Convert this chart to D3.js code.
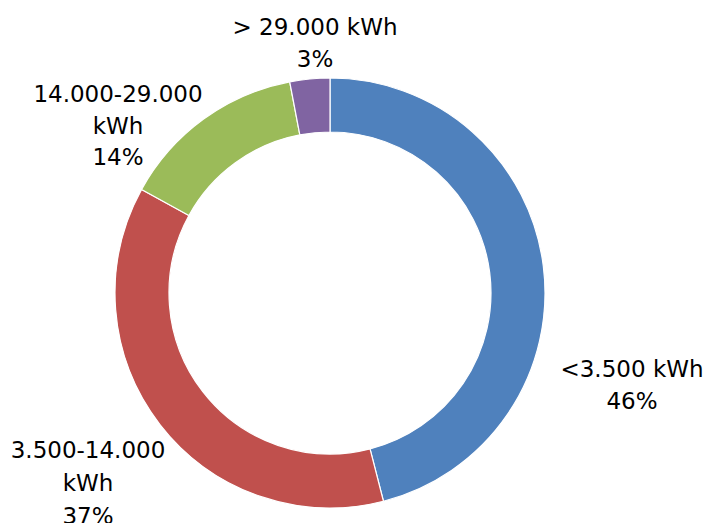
<!DOCTYPE html>
<html>
<head>
<meta charset="utf-8">
<script src="https://cdn.jsdelivr.net/npm/d3@7"></script>
<style>
  html, body { margin: 0; padding: 0; background: #fff; }
  svg { display: block; }
  text { font-family: "DejaVu Sans", Verdana, sans-serif; font-size: 23px; fill: #000; }
</style>
</head>
<body>
<svg id="chart" width="708" height="523"></svg>
<script>
// Data
const categories = ["<3.500 kWh", "3.500-14.000 kWh", "14.000-29.000 kWh", "> 29.000 kWh"];
const labelLines = [["<3.500 kWh"], ["3.500-14.000", "kWh"], ["14.000-29.000", "kWh"], ["> 29.000 kWh"]];
const values = [46, 37, 14, 3];
const colors = ["#4F81BD", "#C0504D", "#9BBB59", "#8064A2"];

// Layout
const W = 708, H = 523;
const cx = 330, cy = 293;
const outerR = 215, innerR = 161;
// label offsets from the chart centre (x centre, first line baseline)
const labelOffsets = [[302, 84], [-242, 165], [-212, -191], [-15, -258]];
const lineHeights = [31.5, 33, 31.5, 31.5];

const svg = d3.select("#chart");
const g = svg.append("g").attr("transform", `translate(${cx},${cy})`);

const pie = d3.pie().sort(null).value(d => d)(values);
const arc = d3.arc().innerRadius(innerR).outerRadius(outerR);
const total = d3.sum(values);

g.selectAll("path.slice")
  .data(pie)
  .join("path")
  .attr("class", "slice")
  .attr("d", arc)
  .attr("fill", (d, i) => colors[i])
  .attr("stroke", "#fff")
  .attr("stroke-width", 1.2);

const labels = g.selectAll("text.lbl")
  .data(pie)
  .join("text")
  .attr("class", "lbl")
  .attr("text-anchor", "middle")
  .attr("transform", (d, i) => `translate(${labelOffsets[i][0]},${labelOffsets[i][1]})`);

labels.each(function(d, i) {
  const t = d3.select(this);
  const lines = labelLines[i].concat([Math.round(d.value / total * 100) + "%"]);
  lines.forEach((ln, k) => {
    t.append("tspan").attr("x", 0).attr("y", k * lineHeights[i]).text(ln);
  });
});
</script>
</body>
</html>
